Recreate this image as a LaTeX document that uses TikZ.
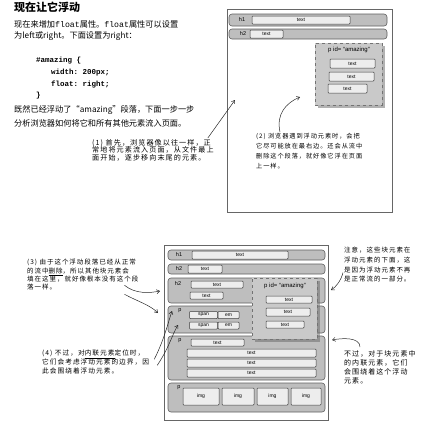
\documentclass[tikz,border=0pt]{standalone}
\usepackage{fontspec}
\setmainfont{Noto Sans CJK SC}
\setsansfont{Liberation Sans}
\setmonofont{Liberation Mono}
\newfontfamily\notefont[LetterSpace=15]{Noto Sans CJK SC}
\usetikzlibrary{arrows.meta,shadows,positioning}
\definecolor{barfill}{HTML}{BEBEBE}
\definecolor{bardraw}{HTML}{5E5E5E}
\definecolor{boxfill}{HTML}{EDEDED}
\definecolor{floatfill}{HTML}{C9C9C9}
\tikzset{
  page/.style={draw=black!60, line width=0.6pt},
  bar/.style={draw=bardraw, fill=barfill, rounded corners=3pt, line width=0.6pt, inner sep=0pt},
  tbox/.style={draw=black!75, fill=boxfill, rounded corners=0.8pt, line width=0.5pt, inner sep=0pt,
    font=\sffamily\fontsize{5}{6}\selectfont},
  tag/.style={font=\sffamily\fontsize{5.5}{6}\selectfont, inner sep=0pt},
  floatbox/.style={draw=black!55, dashed, line width=0.6pt, fill=floatfill, inner sep=0pt,
    drop shadow={shadow xshift=2.5pt, shadow yshift=-2.5pt, fill=black!60}},
  note/.style={align=left, anchor=north west, inner sep=0pt},
  hand/.style={-{Straight Barb[length=3pt,width=4pt]}, line width=0.5pt, black!85}
}
\begin{document}
\begin{tikzpicture}[x=1pt,y=-1pt]
  \useasboundingbox (0,0) rectangle (423,429);

  % left column text
  \node[anchor=west, inner sep=0pt, font=\fontsize{11}{13}\selectfont\bfseries] (title) at (14,7) {现在让它浮动};
  \node[note, font=\fontsize{8.2}{11.7}\selectfont] (intro) at (14,20)
    {现在来增加\texttt{float}属性。\texttt{float}属性可以设置\\为left或right。下面设置为right：};
  \node[note, font=\ttfamily\bfseries\fontsize{7.5}{11.7}\selectfont] (css) at (36,57)
    {\#amazing \{\\\hspace*{15pt}width: 200px;\\\hspace*{15pt}float: right;\\\}};
  \node[note, font=\fontsize{8.2}{14}\selectfont] (then) at (14,105)
    {既然已经浮动了“amazing”段落，下面一步一步\\分析浏览器如何将它和所有其他元素流入页面。};

  % top page
  \draw[page] (227,9) rectangle (392,212);
  \node[bar, minimum width=158, minimum height=12] (th1) at (308,20) {};
  \node[tag] (th1lab) at (242,20) {h1};
  \node[tbox, minimum width=98, minimum height=8] (th1t) at (301,20) {text};
  \node[bar, minimum width=158, minimum height=10] (th2) at (308,34) {};
  \node[tag] (th2lab) at (243,34) {h2};
  \node[tbox, minimum width=33, minimum height=8] (th2t) at (266.5,34) {text};
  \node[floatbox, minimum width=67, minimum height=62] (tfl) at (348.5,74) {};
  \node[tag, font=\sffamily\fontsize{6}{7}\selectfont] (tfllab) at (349,50) {p id= “amazing”};
  \node[tbox, minimum width=45, minimum height=9] (tft1) at (352.5,63.5) {text};
  \node[tbox, minimum width=45, minimum height=9] (tft2) at (351.5,76.5) {text};
  \node[tbox, minimum width=39, minimum height=9] (tft3) at (347.5,88.5) {text};

  % notes for the top page
  \node[note, font=\notefont\fontsize{7.1}{7.8}\selectfont] (n1) at (92,139)
    {(1) 首先，浏览器像以往一样，正\\常地将元素流入页面，从文件最上\\面开始，逐步移向末尾的元素。};
  \node[note, font=\notefont\fontsize{6.2}{10}\selectfont] (n2) at (256,133)
    {(2) 浏览器遇到浮动元素时，会把\\它尽可能放在最右边。还会从流中\\删除这个段落，就好像它浮在页面\\上一样。};
  \coordinate (a1) at (235,100);
  \coordinate (a2) at (300,97);
  \draw[hand] ([xshift=-6pt,yshift=1pt]n1.north east) -- (a1);
  \draw[hand] ([xshift=24pt,yshift=1pt]n2.north west) .. controls +(-4,-18) and +(-14,6) .. (a2);

  % bottom page
  \draw[page] (164,245) rectangle (328,420);
  \node[bar, minimum width=157, minimum height=10] (bh1) at (246.5,255) {};
  \node[tag] (bh1lab) at (179,255) {h1};
  \node[tbox, minimum width=96, minimum height=8] (bh1t) at (240,255) {text};
  \node[bar, minimum width=157, minimum height=10] (bh2) at (246.5,269) {};
  \node[tag] (bh2lab) at (179,269) {h2};
  \node[tbox, minimum width=34, minimum height=8] (bh2t) at (205,269) {text};

  \node[bar, minimum width=157, minimum height=25] (bh2b) at (246.5,290.5) {};
  \node[tag] (bh2blab) at (178,284) {h2};
  \node[tbox, minimum width=52, minimum height=7] (bh2bt1) at (217,284.5) {text};
  \node[tbox, minimum width=33, minimum height=7] (bh2bt2) at (206.5,295.5) {text};

  \node[bar, minimum width=157, minimum height=27] (bp1) at (246.5,319.5) {};
  \node[tag] (bp1lab) at (180,311) {p};
  \node[tbox, minimum width=28, minimum height=7] (span1) at (203.5,315) {span};
  \node[tbox, minimum width=21, minimum height=7] (em1) at (228.5,315) {em};
  \node[tbox, minimum width=28, minimum height=7] (span2) at (203.5,325.5) {span};
  \node[tbox, minimum width=21, minimum height=7] (em2) at (228.5,325.5) {em};

  \node[bar, minimum width=157, minimum height=44] (bp2) at (246.5,358) {};
  \node[tag] (bp2lab) at (180,341) {p};
  \node[tbox, minimum width=53, minimum height=7] (bp2t1) at (217.5,342.5) {text};
  \node[tbox, minimum width=129, minimum height=8] (bp2t2) at (251.5,353) {text};
  \node[tbox, minimum width=129, minimum height=8] (bp2t3) at (251.5,363) {text};
  \node[tbox, minimum width=129, minimum height=8] (bp2t4) at (251.5,373) {text};

  \node[bar, minimum width=157, minimum height=29] (bp3) at (246.5,397.5) {};
  \node[tag] (bp3lab) at (179,388) {p};
  \node[tbox, minimum width=36, minimum height=17] (img1) at (201,396.5) {img};
  \node[tbox, minimum width=32, minimum height=17] (img2) at (238,396.5) {img};
  \node[tbox, minimum width=31, minimum height=17] (img3) at (272.5,396.5) {img};
  \node[tbox, minimum width=30, minimum height=17] (img4) at (306,396.5) {img};

  \node[floatbox, minimum width=65, minimum height=61] (bfl) at (284.5,308.5) {};
  \node[tag, font=\sffamily\fontsize{6}{7}\selectfont] (bfllab) at (285,286) {p id= “amazing”};
  \node[tbox, minimum width=46, minimum height=7] (bft1) at (289,299.5) {text};
  \node[tbox, minimum width=44, minimum height=8] (bft2) at (288,312) {text};
  \node[tbox, minimum width=38, minimum height=7] (bft3) at (285,324.5) {text};

  % notes for the bottom page
  \node[note, font=\notefont\fontsize{6.5}{8.3}\selectfont] (n3) at (27,259)
    {(3) 由于这个浮动段落已经从正常\\的流中\underline{删除}，所以其他块元素会\\填在这里，就好像根本没有这个段\\落一样。};
  \node[note, font=\notefont\fontsize{6.7}{9}\selectfont] (n4) at (42,350)
    {(4) 不过，对\underline{内联元素}定位时，\\它们会考虑浮动元素的边界，因\\此会围绕着浮动元素。};
  \node[note, font=\notefont\fontsize{6.5}{9.7}\selectfont] (nA) at (344,247)
    {注意，这些块元素在\\浮动元素的下面，这\\是因为浮动元素不再\\是正常流的一部分。};
  \node[note, font=\notefont\fontsize{7}{9}\selectfont] (nB) at (344,350)
    {不过，对于块元素中\\的内联元素，它们\\会围绕着这个浮动\\元素。};

  \coordinate (a3a) at (160,291);
  \coordinate (a3b) at (158,313);
  \coordinate (a4a) at (172,311);
  \coordinate (a4b) at (178,325);
  \coordinate (aA) at (331,290);
  \coordinate (aB) at (332,340);
  \draw[hand] ([shift={(-14pt,5pt)}]n3.south east) .. controls +(11,9) and +(-10,2) .. (a3a);
  \draw[hand] ([shift={(-14pt,-4pt)}]n3.south east) .. controls +(13,7) and +(-8,-8) .. (a3b);
  \draw[hand] ([shift={(5pt,3pt)}]n4.east) .. controls +(10,-20) and +(-4,12) .. (a4a);
  \draw[hand] ([shift={(8pt,-3pt)}]n4.east) .. controls +(12,-18) and +(-6,10) .. (a4b);
  \draw[hand] ([shift={(-1pt,10pt)}]nA.south west) .. controls +(-2,8) and +(5,-3) .. (aA);
  \draw[hand] ([shift={(16pt,3pt)}]nB.north west) .. controls +(0,-10) and +(10,-2) .. (aB);
\end{tikzpicture}
\end{document}
